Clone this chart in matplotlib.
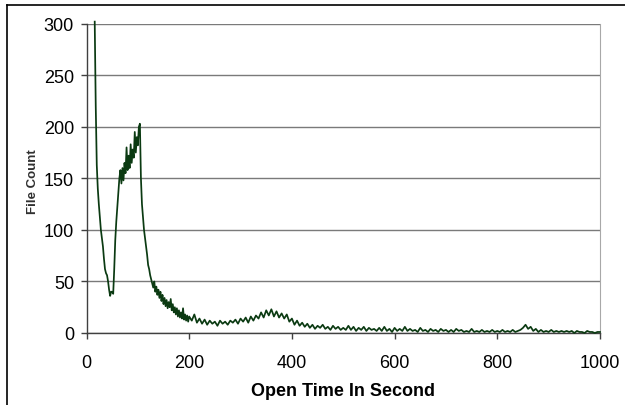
import numpy as np
import matplotlib.pyplot as plt
from matplotlib.lines import Line2D

plt.rcParams['font.family'] = ['Liberation Sans', 'DejaVu Sans']

# file counts per open time (seconds)
# early part, every 2 s from 16 s to 198 s
early_counts = [302, 220, 163, 140, 125, 112, 100, 92, 84, 72,
                62, 58, 56, 50, 42, 36, 40, 40, 38, 62,
                90, 108, 122, 135, 150, 158, 145, 160, 148, 165,
                155, 180, 158, 172, 160, 183, 165, 178, 170, 195,
                175, 190, 182, 200, 203, 150, 125, 112, 100, 92,
                84, 76, 66, 62, 56, 52, 48, 44, 50, 40,
                45, 37, 42, 34, 40, 31, 37, 28, 34, 26,
                32, 24, 30, 25, 33, 22, 28, 20, 25, 18,
                24, 16, 22, 15, 20, 14, 24, 13, 18, 12,
                17, 11]
# tail, every 5 s from 200 s to 1000 s
late_counts = [16, 12, 18, 10, 14, 9, 13, 8, 12, 9,
               11, 7, 12, 9, 11, 8, 12, 10, 13, 9,
               14, 11, 15, 10, 16, 12, 17, 14, 20, 15,
               22, 17, 23, 16, 21, 15, 19, 14, 18, 11,
               14, 8, 12, 7, 10, 6, 9, 5, 8, 4,
               7, 5, 8, 4, 6, 3, 7, 4, 6, 3,
               5, 3, 7, 3, 6, 2, 5, 3, 6, 2,
               5, 3, 4, 2, 5, 2, 6, 2, 4, 1,
               5, 2, 4, 2, 6, 2, 4, 2, 3, 1,
               5, 2, 3, 1, 4, 2, 3, 1, 4, 2,
               3, 1, 3, 1, 4, 2, 3, 1, 2, 1,
               4, 1, 2, 1, 3, 1, 2, 1, 3, 1,
               2, 1, 3, 1, 2, 1, 3, 1, 2, 3,
               5, 8, 4, 6, 2, 4, 1, 3, 1, 2,
               1, 3, 1, 2, 1, 2, 1, 2, 1, 2,
               0, 2, 1, 1, 0, 2, 1, 1, 0, 1,
               1]
early_times = np.arange(16, 200, 2)
late_times = np.arange(200, 1001, 5)

times = np.concatenate([early_times, late_times])
counts = np.array(early_counts + late_counts, dtype=float)

x_ticks = [0, 200, 400, 600, 800, 1000]
y_ticks = [0, 50, 100, 150, 200, 250, 300]

fig = plt.figure(figsize=(6.25, 4.06), dpi=100)
ax = fig.add_axes([86.5 / 625, 1 - 334 / 406, (600 - 86.5) / 625, (334 - 24.7) / 406])

ax.plot(times, counts, color='#0b3a12', lw=1.25, clip_on=False, zorder=3)

ax.set_xlim(0, 1000)
ax.set_ylim(0, 300)
ax.set_xticks(x_ticks)
ax.set_yticks(y_ticks)
ax.yaxis.grid(True, color='#7a7a7a', lw=1.0)
ax.set_axisbelow(True)

for side in ['left', 'bottom']:
    ax.spines[side].set_color('#404040')
    ax.spines[side].set_linewidth(1.0)
ax.spines['right'].set_color('#a8a8a8')
ax.spines['top'].set_visible(False)

ax.tick_params(axis='x', direction='out', length=4, width=1, color='#404040',
               labelsize=13, pad=11)
ax.tick_params(axis='y', direction='out', length=4, width=1, color='#404040',
               labelsize=13, pad=5)

ax.set_xlabel('Open Time In Second', fontsize=13, fontweight='bold', labelpad=8)
fig.text(33 / 625, 1 - 182 / 406, 'File Count', rotation=90, fontsize=9.5,
         fontweight='bold', color='#303030', ha='center', va='center')

# chart frame (left and top edges visible)
fig.add_artist(Line2D([7 / 625, 7 / 625], [0, 1 - 6 / 406], color='black', lw=1.2))
fig.add_artist(Line2D([7 / 625, 1], [1 - 6 / 406, 1 - 6 / 406], color='black', lw=1.2))

fig.savefig('out.png', dpi=100)
